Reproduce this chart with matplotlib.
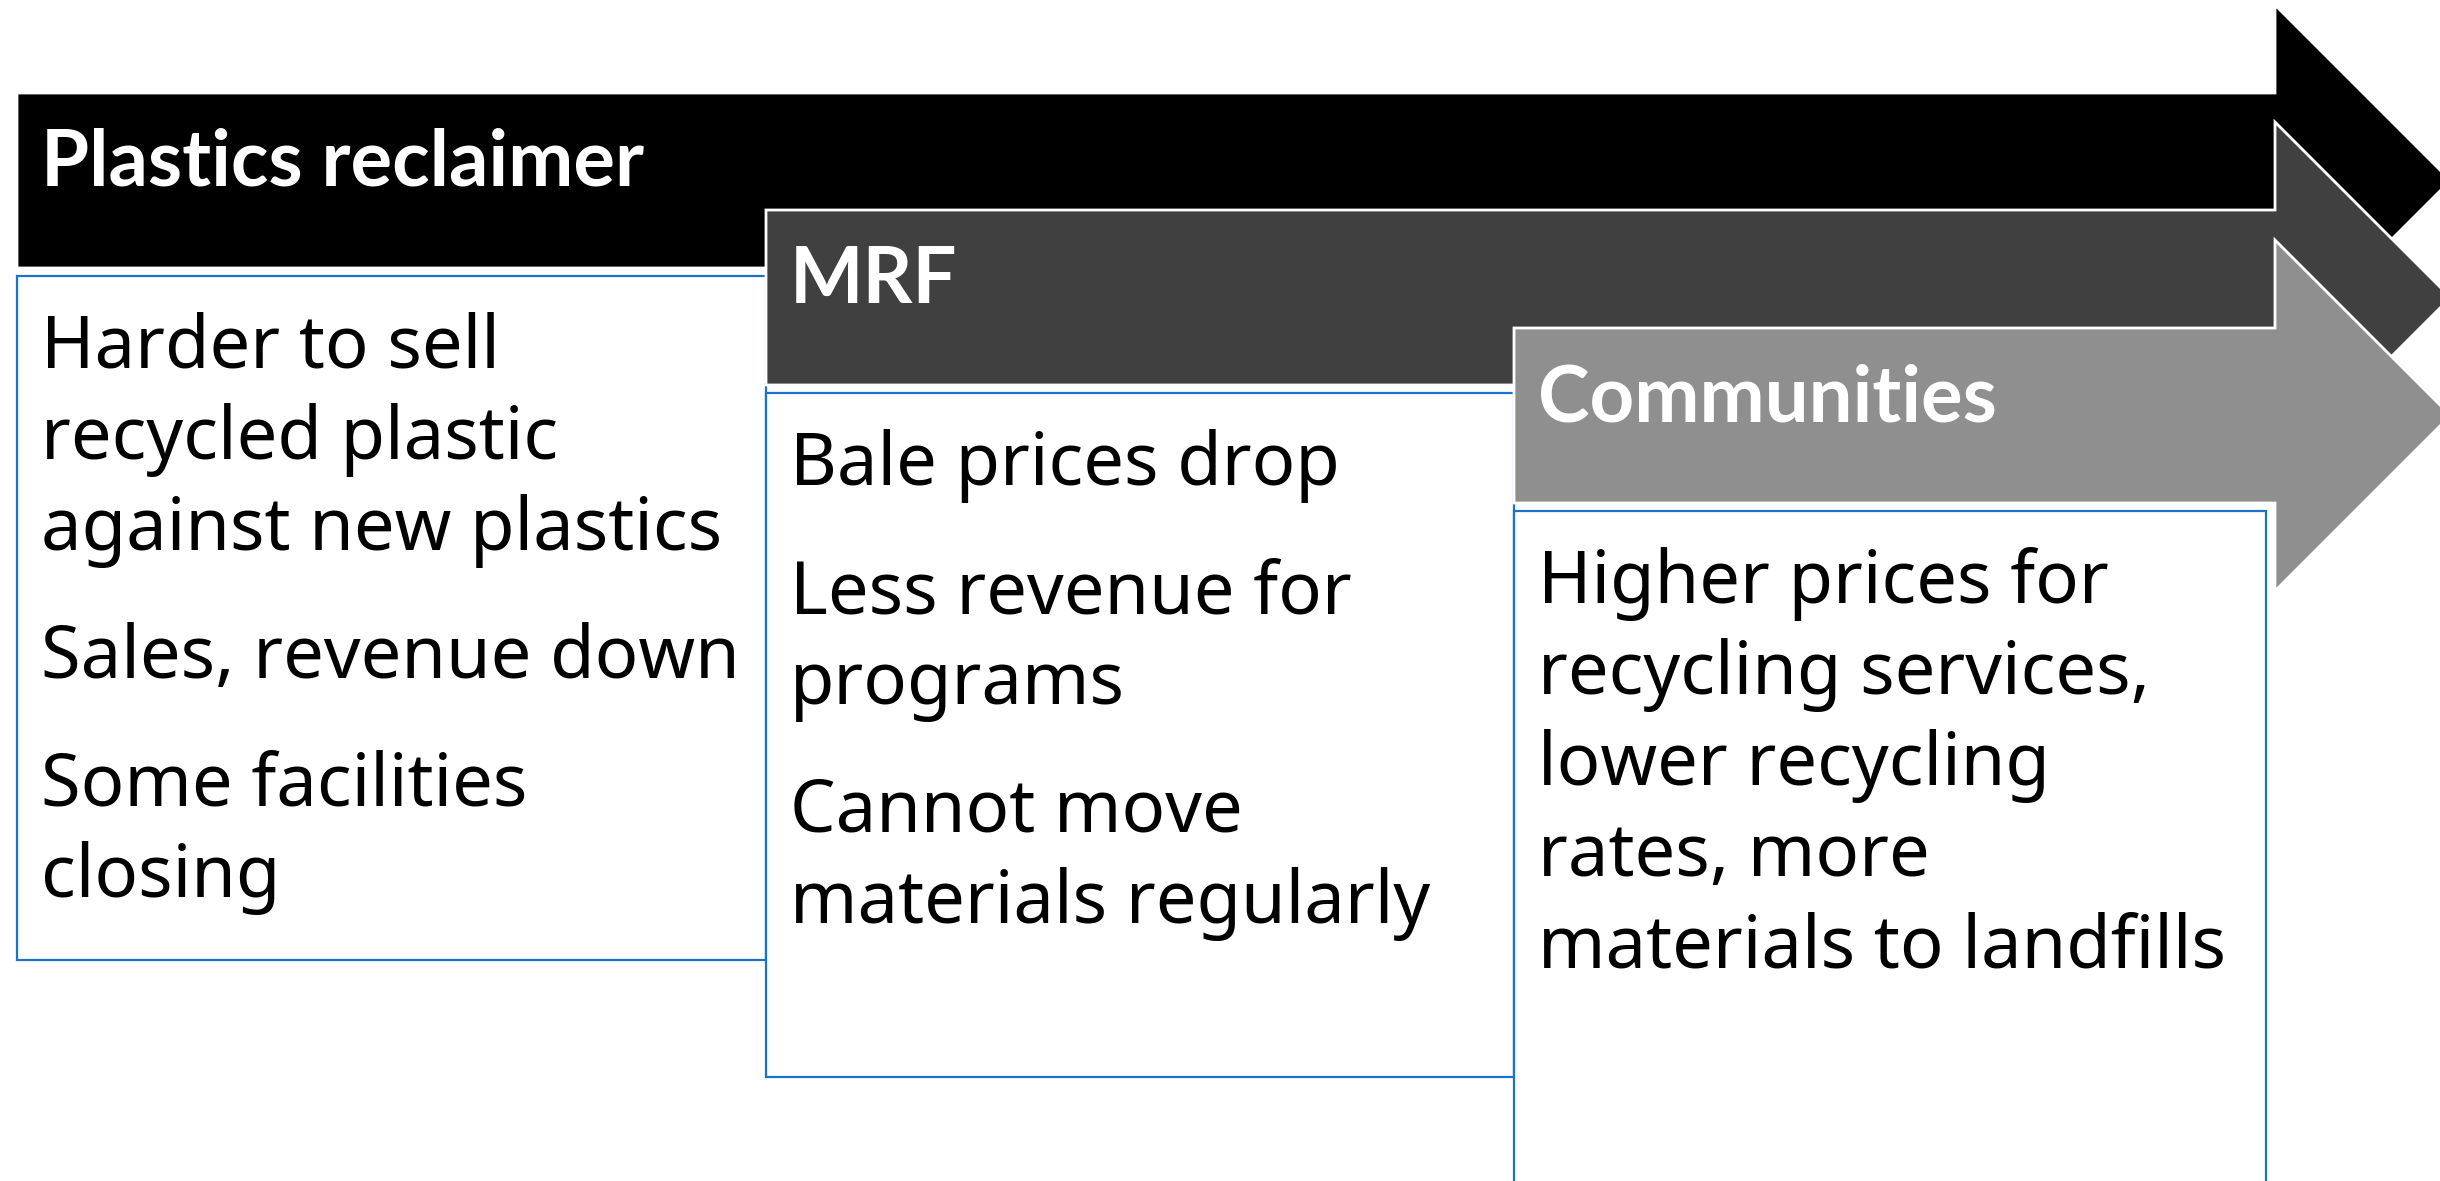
import matplotlib.pyplot as plt
from matplotlib.patches import Polygon, Rectangle

# stages of the chain, left to right
headers = ["Plastics reclaimer", "MRF", "Communities"]
arrow_colors = ["#000000", "#404040", "#8f8f8f"]
bodies = [
    [["Harder to sell", "recycled plastic", "against new plastics"],
     ["Sales, revenue down"],
     ["Some facilities", "closing"]],
    [["Bale prices drop"],
     ["Less revenue for", "programs"],
     ["Cannot move", "materials regularly"]],
    [["Higher prices for", "recycling services,", "lower recycling",
      "rates, more", "materials to landfills"]],
]

# layout in pixel units (figure is 2440 x 1181)
W, H = 2440, 1181
lefts = [17, 766, 1514]
shaft_tops = [93, 210, 328]
shaft_h = 175
head_x = 2275
head_ext = 88
box_rights = [766, 1514, 2266]
box_bottoms = [960, 1077, 1200]
line_gap = 91
para_gap = 128

plt.rcParams['font.family'] = ['Noto Sans', 'DejaVu Sans']

fig = plt.figure(figsize=(24.4, 11.81), dpi=100)
ax = fig.add_axes([0, 0, 1, 1])
ax.set_xlim(0, W)
ax.set_ylim(H, 0)
ax.axis("off")

for i, name in enumerate(headers):
    top = shaft_tops[i]
    bot = top + shaft_h
    mid = (top + bot) / 2
    half = shaft_h / 2 + head_ext
    pts = [(lefts[i], top), (head_x, top), (head_x, mid - half),
           (head_x + half, mid), (head_x, mid + half), (head_x, bot),
           (lefts[i], bot)]
    ax.add_patch(Polygon(pts, closed=True, facecolor=arrow_colors[i],
                         edgecolor="white", lw=2, zorder=2 + i * 2))
    ax.text(lefts[i] + 24, top + 93, name, color="white", fontsize=56,
            family=["Lato", "DejaVu Sans"], fontweight="bold",
            va="baseline", ha="left", zorder=3 + i * 2)

    # text box under the arrow
    btop = bot + 8
    ax.add_patch(Rectangle((lefts[i], btop), box_rights[i] - lefts[i],
                           box_bottoms[i] - btop, facecolor="white",
                           edgecolor="#1a73c8", lw=1.6, zorder=1 + i * 2))
    y = btop + 92
    for p, para in enumerate(bodies[i]):
        if p > 0:
            y += para_gap - line_gap
        for line in para:
            ax.text(lefts[i] + 24, y, line, color="black", fontsize=52,
                    va="baseline", ha="left", zorder=3 + i * 2)
            y += line_gap

fig.savefig("out.png", dpi=100)
